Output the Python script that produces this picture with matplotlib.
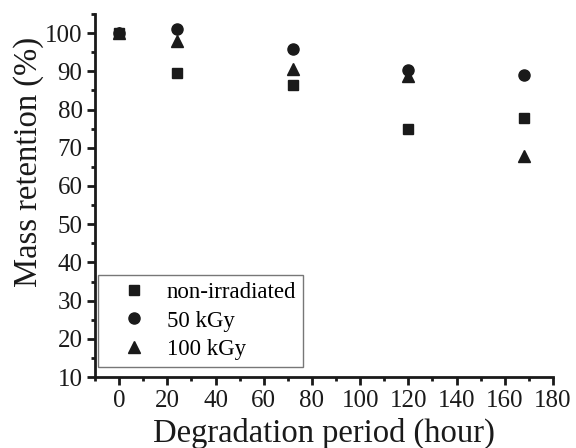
import matplotlib.pyplot as plt
from matplotlib.ticker import MultipleLocator

plt.rcParams['font.family'] = 'Liberation Serif'

# degradation time (hour)
hours = [0, 24, 72, 120, 168]
# mass retention (%)
non_irradiated = [100.0, 89.5, 86.5, 75.0, 77.8]
kgy_50 = [100.0, 101.1, 95.7, 90.4, 89.0]
kgy_100 = [100.0, 97.8, 90.6, 88.8, 67.9]

fig = plt.figure(figsize=(5.76, 4.48), dpi=100)
ax = fig.add_axes([0.165, 0.158, 0.795, 0.811])

ink = '#1a1a1a'
ax.plot(hours, non_irradiated, 's', color=ink, ms=7, label='non-irradiated')
ax.plot(hours, kgy_50, 'o', color=ink, ms=8, label='50 kGy')
ax.plot(hours, kgy_100, '^', color=ink, ms=8.5, label='100 kGy')

ax.set_xlim(-10, 180)
ax.set_ylim(10, 105)
ax.xaxis.set_major_locator(MultipleLocator(20))
ax.xaxis.set_minor_locator(MultipleLocator(10))
ax.yaxis.set_major_locator(MultipleLocator(10))
ax.yaxis.set_minor_locator(MultipleLocator(5))

for side in ['top', 'right']:
    ax.spines[side].set_visible(False)
for side in ['left', 'bottom']:
    ax.spines[side].set_linewidth(2)
    ax.spines[side].set_color(ink)

ax.tick_params(which='major', direction='out', length=6, width=2, labelsize=18, colors=ink, pad=3)
ax.tick_params(which='minor', direction='out', length=3, width=2, colors=ink)

ax.set_xlabel('Degradation period (hour)', fontsize=23.5, labelpad=4, color=ink)
ax.set_ylabel('Mass retention (%)', fontsize=23.5, color=ink)
ax.yaxis.set_label_coords(-0.112, 0.592)

leg = ax.legend(loc='upper left', bbox_to_anchor=(98 / 576, 1 - 275 / 448),
                bbox_transform=fig.transFigure, borderaxespad=0,
                fontsize=16.5, frameon=True, fancybox=False, edgecolor='#555555',
                handlelength=2.5, handletextpad=0.2, borderpad=0.3,
                labelspacing=0.33)
leg.get_frame().set_linewidth(1)

fig.savefig('out.png', dpi=100)
